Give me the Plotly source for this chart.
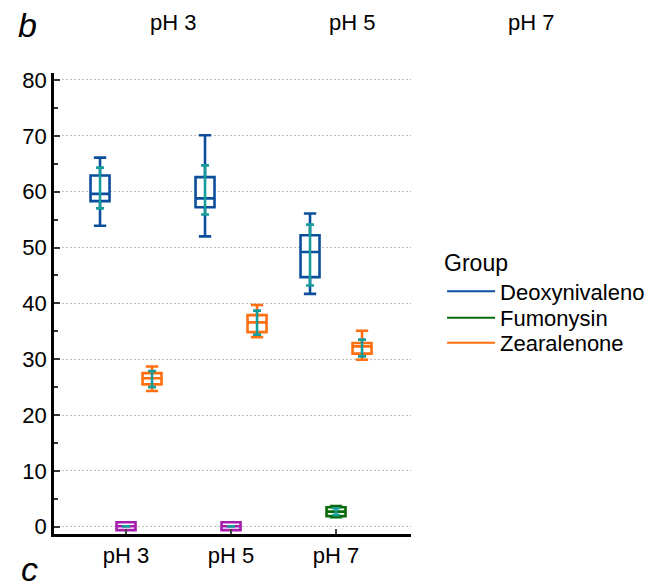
import plotly.graph_objects as go

categories = ["pH 3", "pH 5", "pH 7"]
group_names = ["Deoxynivaleno", "Fumonysin", "Zearalenone"]

# Deoxynivalenol box statistics (per pH)
don_low = [53.9, 52.0, 41.7]
don_q1 = [58.3, 57.2, 44.7]
don_med = [59.6, 58.8, 49.2]
don_q3 = [62.9, 62.6, 52.2]
don_high = [66.1, 70.1, 56.1]
don_mean = [60.65, 60.3, 48.65]
don_sd = [3.65, 4.4, 5.45]

# Fumonysin box statistics (per pH)
fum_low = [-0.6, -0.6, 1.7]
fum_q1 = [-0.6, -0.6, 1.9]
fum_med = [0.1, 0.1, 2.7]
fum_q3 = [0.8, 0.8, 3.5]
fum_high = [0.8, 0.8, 3.7]
fum_mean = [0.07, 0.07, 2.7]
fum_sd = [0.0, 0.0, 0.6]

# Zearalenone box statistics (per pH)
zea_low = [24.3, 33.95, 29.9]
zea_q1 = [25.5, 34.85, 31.0]
zea_med = [26.6, 36.6, 32.3]
zea_q3 = [27.5, 37.9, 32.9]
zea_high = [28.7, 39.7, 35.1]
zea_mean = [26.45, 36.55, 32.0]
zea_sd = [1.45, 2.15, 1.5]

BLUE = "#0B4F9C"
GREEN = "#0A6B0A"
ORANGE = "#FF6E0F"
MAGENTA = "#A61CAE"
CYAN = "#179C9C"
FONT = "Liberation Sans, Arial, sans-serif"

fig = go.Figure()


def add_box(x, low, q1, med, q3, high, color, group):
    fig.add_trace(go.Box(
        x=x, lowerfence=low, q1=q1, median=med, q3=q3, upperfence=high,
        line=dict(color=color, width=2.6), fillcolor="white",
        whiskerwidth=0.65, boxpoints=False, showlegend=False,
        offsetgroup=group, alignmentgroup="a", hoverinfo="skip",
    ))


add_box(categories, don_low, don_q1, don_med, don_q3, don_high, BLUE, "D")
add_box(categories[:2], fum_low[:2], fum_q1[:2], fum_med[:2], fum_q3[:2], fum_high[:2], MAGENTA, "F")
add_box(categories[2:], fum_low[2:], fum_q1[2:], fum_med[2:], fum_q3[2:], fum_high[2:], GREEN, "F")
add_box(categories, zea_low, zea_q1, zea_med, zea_q3, zea_high, ORANGE, "Z")


def add_err(mean, sd, group):
    fig.add_trace(go.Scatter(
        x=categories, y=mean, mode="markers",
        marker=dict(size=1, color=CYAN),
        error_y=dict(type="data", array=sd, visible=True, color=CYAN,
                     thickness=2.6, width=4),
        showlegend=False, offsetgroup=group, alignmentgroup="a", hoverinfo="skip",
    ))


add_err(don_mean, don_sd, "D")
add_err(fum_mean, fum_sd, "F")
add_err(zea_mean, zea_sd, "Z")

legend_ids = ["legend", "legend2", "legend3"]
for name, color, group, lid in zip(group_names, [BLUE, GREEN, ORANGE], ["D", "F", "Z"], legend_ids):
    fig.add_trace(go.Scatter(
        x=[None], y=[None], mode="lines", name=name,
        line=dict(color=color, width=2),
        offsetgroup=group, alignmentgroup="a", legend=lid,
    ))

LEG_X = 1.087
leg_common = dict(x=LEG_X, xanchor="left", font=dict(size=22),
                  bgcolor="rgba(0,0,0,0)", itemwidth=48)

fig.update_layout(
    width=656, height=584,
    margin=dict(l=46, r=253, t=65, b=58, autoexpand=False),
    plot_bgcolor="white", paper_bgcolor="white",
    font=dict(family=FONT, size=22, color="black"),
    boxmode="group", boxgap=0.257, boxgroupgap=0.27,
    scattermode="group", scattergap=0.257,
    legend=dict(title=dict(text="Group", font=dict(size=23)),
                y=0.6364, yanchor="top", **leg_common),
    legend2=dict(y=0.4685, yanchor="middle", **leg_common),
    legend3=dict(y=0.4143, yanchor="middle", **leg_common),
    xaxis=dict(
        type="category", range=[-0.686, 2.714],
        showline=True, linecolor="black", linewidth=2.5,
        ticks="inside", ticklen=5, tickwidth=2, tickcolor="#444",
        showgrid=False, zeroline=False, tickfont=dict(size=22),
    ),
    yaxis=dict(
        range=[-1.3, 81.25], dtick=10, tick0=0,
        showline=True, linecolor="black", linewidth=2.5,
        ticks="inside", ticklen=6, tickwidth=2, tickcolor="#333",
        minor=dict(dtick=5, ticks="inside", ticklen=4, tickwidth=1.5, tickcolor="#333", showgrid=False),
        showgrid=True, gridcolor="#BDBDBD", griddash="2px,2px", gridwidth=1,
        zeroline=False, tickfont=dict(size=22),
    ),
)

# panel letters and strip labels
fig.add_annotation(text="b", x=-0.0756, y=1.104, xref="paper", yref="paper",
                   showarrow=False, font=dict(size=34, style="italic"),
                   xanchor="center", yanchor="middle")
fig.add_annotation(text="c", x=-0.07, y=-0.075, xref="paper", yref="paper",
                   showarrow=False, font=dict(size=34, style="italic"),
                   xanchor="center", yanchor="middle")
for label, px in zip(categories, [0.3333, 0.8347, 1.336]):
    fig.add_annotation(text=label, x=px, y=1.1106, xref="paper", yref="paper",
                       showarrow=False, font=dict(size=22), xanchor="center", yanchor="middle")

fig.write_html("out.html")
